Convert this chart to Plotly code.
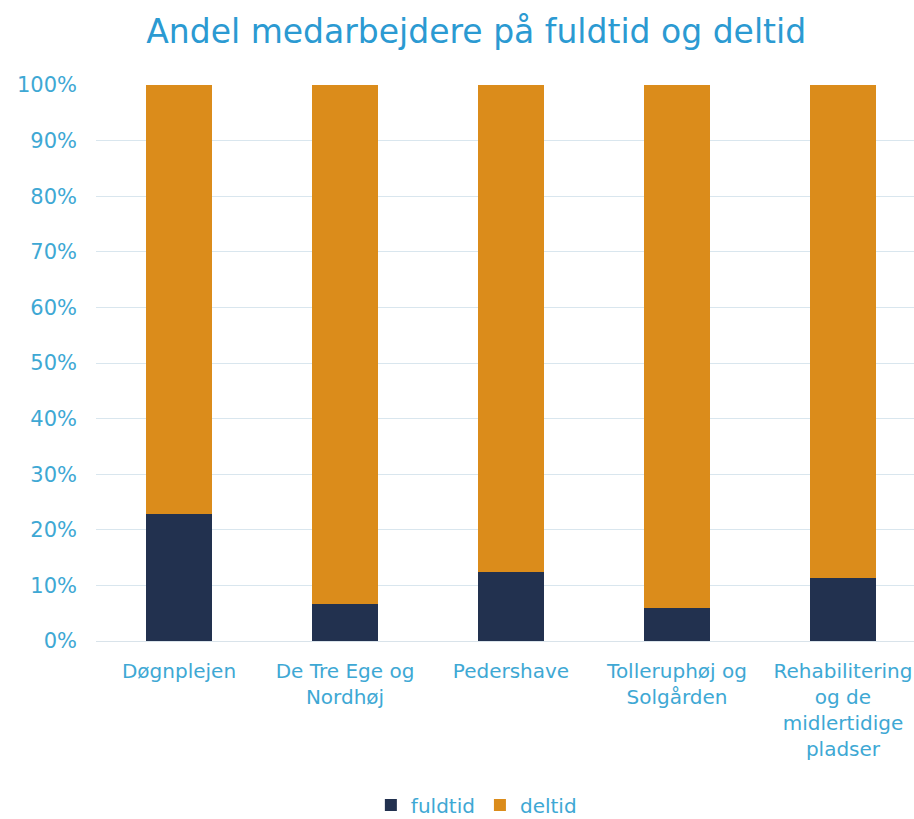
import plotly.graph_objects as go

categories = ["Døgnplejen", "De Tre Ege og<br>Nordhøj", "Pedershave",
              "Tolleruphøj og<br>Solgården",
              "Rehabilitering<br>og de<br>midlertidige<br>pladser"]
fuldtid = [22.8, 6.7, 12.4, 5.9, 11.3]
deltid = [77.2, 93.3, 87.6, 94.1, 88.7]
y_ticks = [0, 10, 20, 30, 40, 50, 60, 70, 80, 90, 100]
y_tick_labels = [f"{v}%" for v in y_ticks]

navy = "#22314f"
orange = "#db8c1b"
tick_color = "#3ea8d4"
title_color = "#2b9ad2"
font_family = "DejaVu Sans"

fig = go.Figure()
fig.add_trace(go.Bar(x=categories, y=fuldtid, name="fuldtid",
                     marker=dict(color=navy, line=dict(width=0)), width=0.4))
fig.add_trace(go.Bar(x=categories, y=deltid, name="deltid",
                     marker=dict(color=orange, line=dict(width=0)), width=0.4))

fig.update_layout(
    barmode="stack",
    width=914, height=819,
    margin=dict(l=96, r=0, t=85, b=178, autoexpand=False),
    paper_bgcolor="white", plot_bgcolor="white",
    font=dict(family=font_family, size=20, color=tick_color),
    title=dict(text="Andel medarbejdere på fuldtid og deltid",
               font=dict(family=font_family, size=33, color=title_color),
               x=0.521, xanchor="center", xref="container",
               y=0.961, yanchor="middle", yref="container"),
    legend=dict(orientation="h", x=0.465, xanchor="center",
                y=0.017, yanchor="middle", yref="container",
                traceorder="normal",
                font=dict(size=20, color=tick_color),
                itemwidth=30, tracegroupgap=0,
                bgcolor="rgba(0,0,0,0)"),
    xaxis=dict(range=[-0.5, 4.428], showgrid=False, showline=True,
               linecolor="#d9e3ea", linewidth=1, ticks="",
               ticklabelstandoff=12, automargin=False,
               tickfont=dict(size=20, color=tick_color)),
    yaxis=dict(range=[0, 100], tickvals=y_ticks, ticktext=y_tick_labels,
               showgrid=True, gridcolor="#d9e6ee", gridwidth=1,
               zeroline=False, showline=False, ticks="", ticklen=0,
               ticklabelstandoff=18, automargin=False,
               tickfont=dict(size=21, color=tick_color)),
    bargap=0.6,
)

fig.write_html("out.html", config={"displayModeBar": False},
               post_script="document.body.style.margin='0';document.body.style.overflow='hidden';")
